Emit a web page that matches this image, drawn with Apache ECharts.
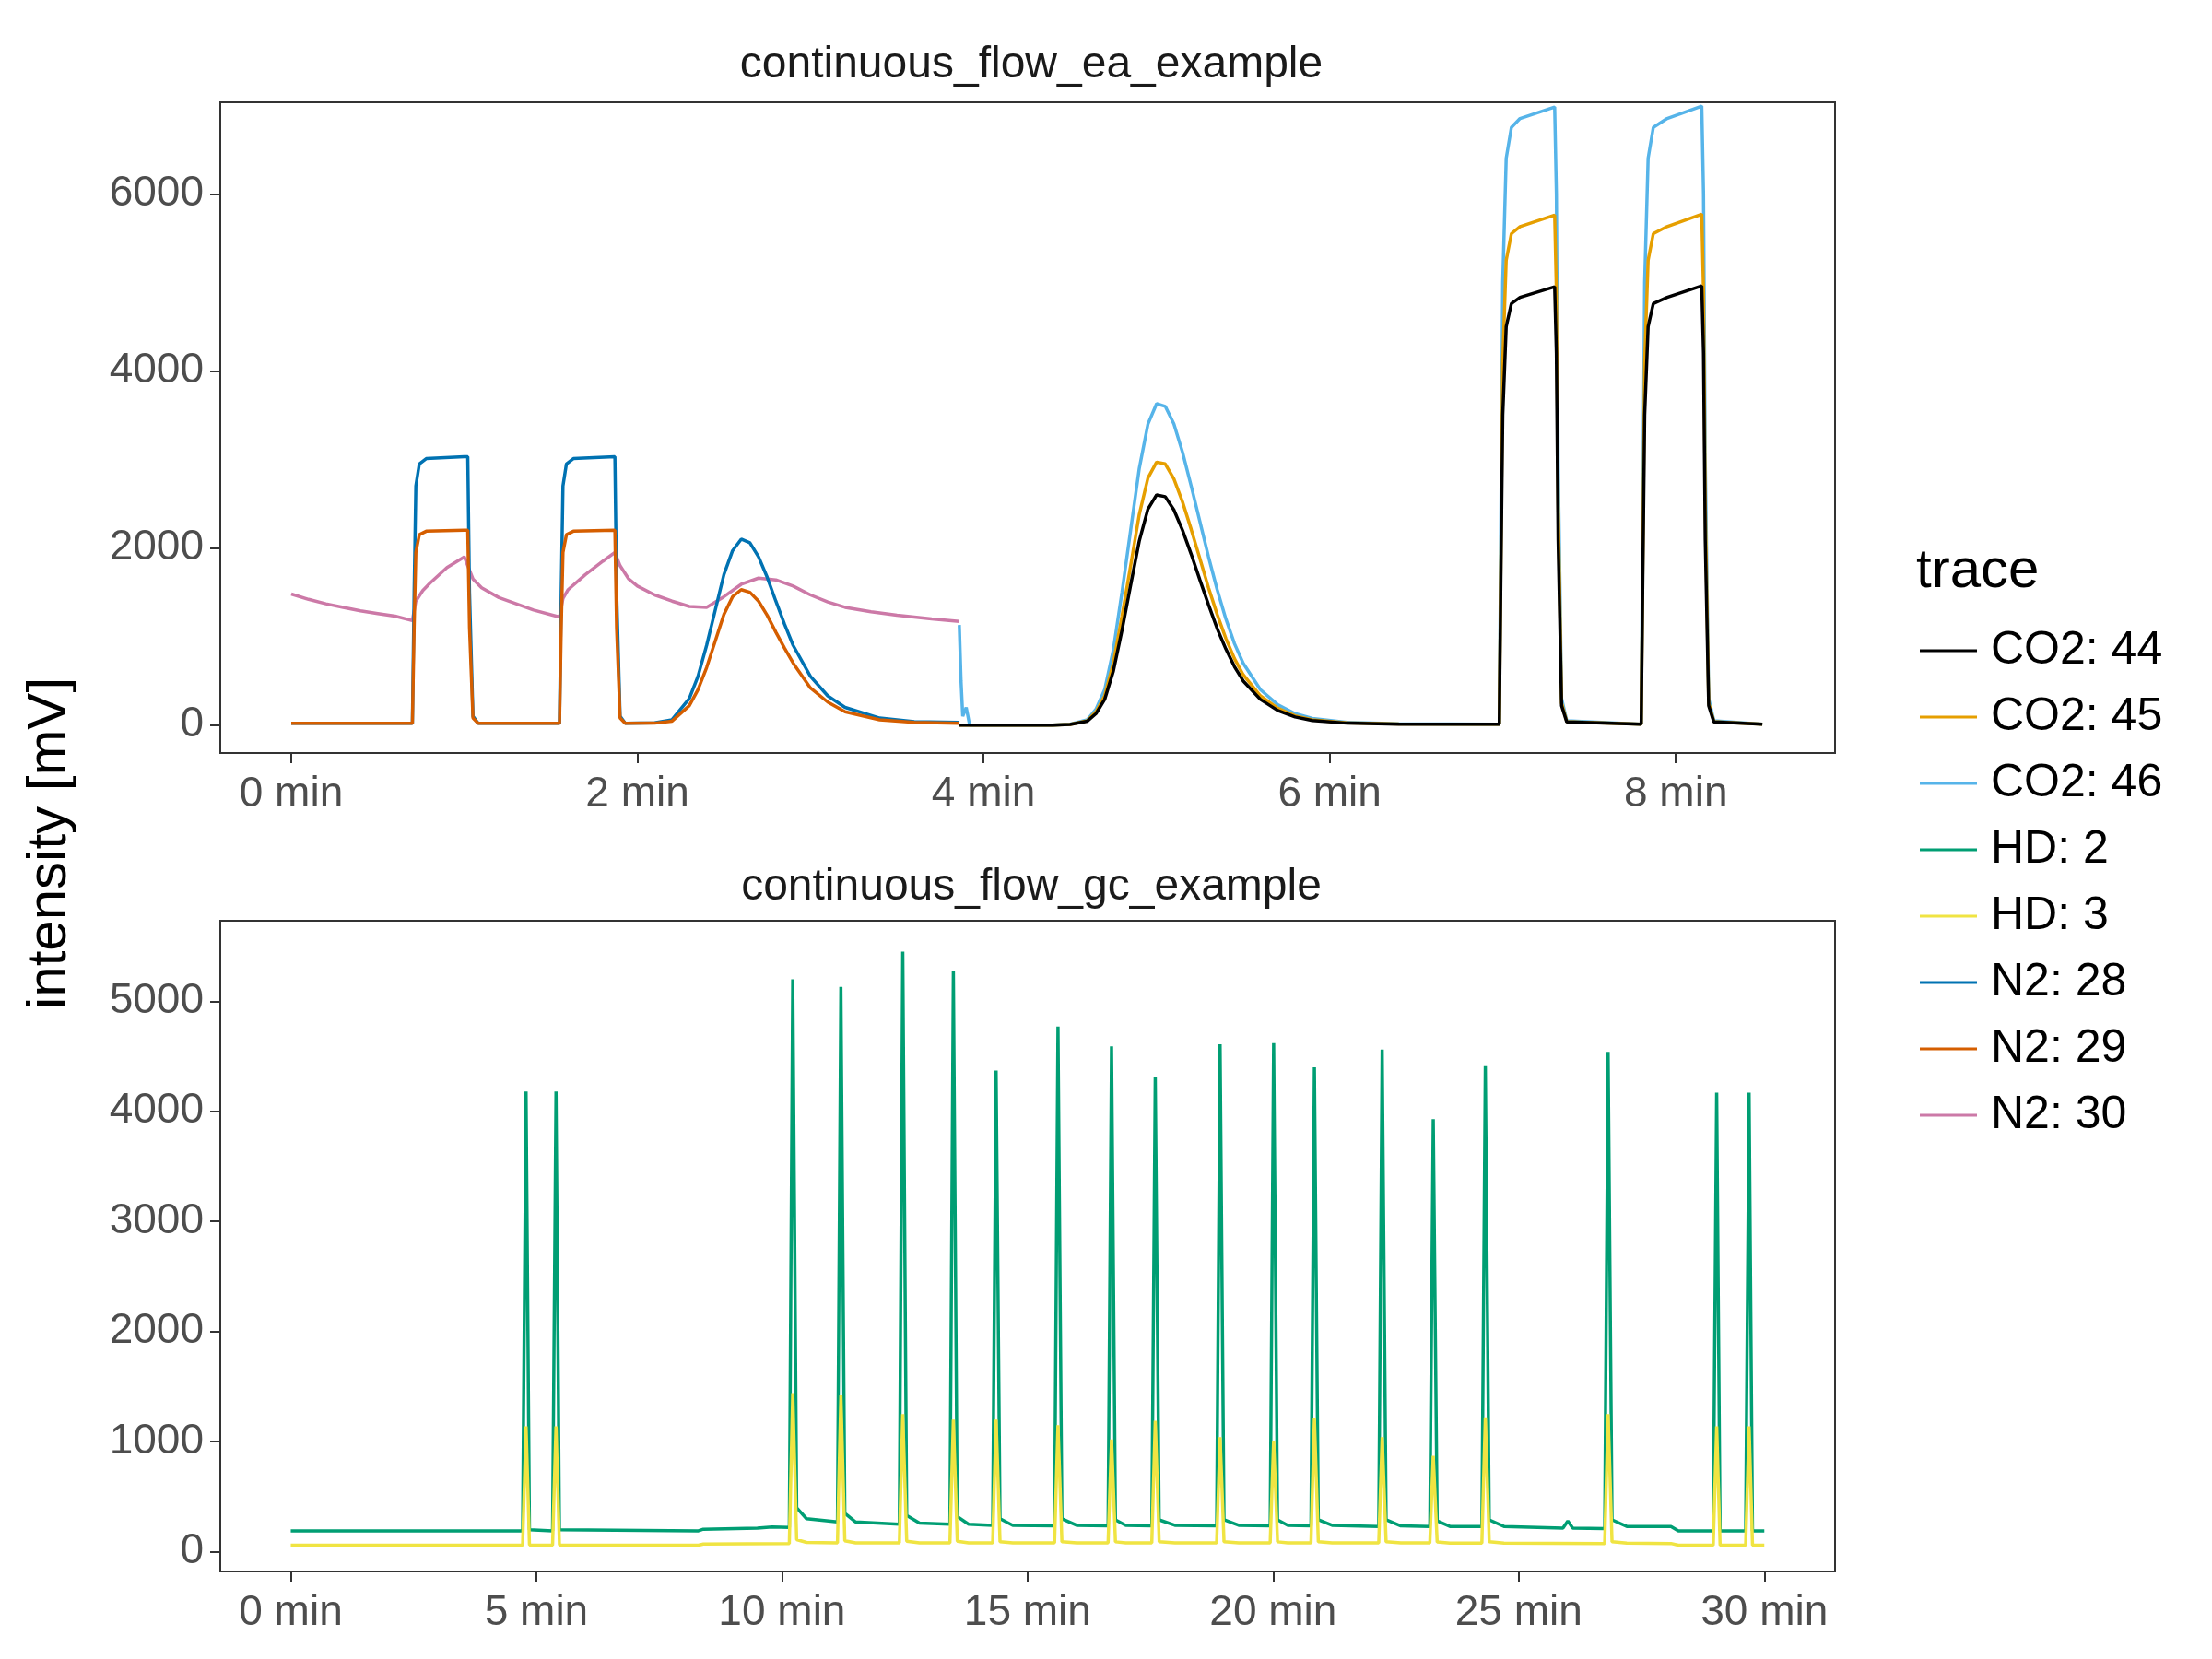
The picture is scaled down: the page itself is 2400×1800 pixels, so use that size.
<!DOCTYPE html>
<html>
<head>
<meta charset="utf-8">
<script src="https://cdn.jsdelivr.net/npm/echarts@6/dist/echarts.min.js"></script>
<style>html,body{margin:0;background:#fff}#chart-container{width:2400px;height:1800px}</style>
</head>
<body>
<div id="chart-container"></div>
<script>
// ---- data (time in min, intensity in mV) ----
var eaTicks = [0, 2, 4, 6, 8];
var eaYTicks = [0, 2000, 4000, 6000];
var gcTicks = [0, 5, 10, 15, 20, 25, 30];
var gcYTicks = [0, 1000, 2000, 3000, 4000, 5000];

var n2_28 = [[0,20],[0.7,20],[0.71,1500],[0.72,2700],[0.74,2950],[0.78,3010],[1.0,3030],[1.02,3030],[1.03,1500],[1.05,100],[1.08,20],[1.55,20],[1.56,1500],[1.57,2700],[1.59,2950],[1.63,3010],[1.87,3030],[1.88,1500],[1.9,100],[1.93,20],[2.1,25],[2.2,60],[2.3,300],[2.35,550],[2.4,900],[2.45,1300],[2.5,1700],[2.55,1970],[2.6,2100],[2.65,2060],[2.7,1900],[2.75,1670],[2.8,1400],[2.85,1140],[2.9,900],[3.0,550],[3.1,330],[3.2,200],[3.4,80],[3.6,40],[3.86,30]];
var n2_29 = [[0,20],[0.7,20],[0.71,1100],[0.72,1950],[0.74,2150],[0.78,2190],[1.0,2200],[1.02,2200],[1.03,1100],[1.05,80],[1.08,20],[1.55,20],[1.56,1100],[1.57,1950],[1.59,2150],[1.63,2190],[1.87,2200],[1.88,1100],[1.9,80],[1.93,20],[2.1,22],[2.2,45],[2.3,220],[2.35,400],[2.4,650],[2.45,950],[2.5,1250],[2.55,1450],[2.6,1530],[2.65,1500],[2.7,1400],[2.75,1240],[2.8,1050],[2.85,870],[2.9,700],[3.0,420],[3.1,260],[3.2,150],[3.4,60],[3.6,30],[3.86,20]];
var n2_30 = [[0,1480],[0.1,1420],[0.2,1370],[0.3,1330],[0.4,1290],[0.5,1260],[0.6,1230],[0.7,1180],[0.72,1400],[0.76,1520],[0.8,1600],[0.9,1780],[1.0,1900],[1.02,1800],[1.05,1650],[1.1,1550],[1.2,1440],[1.3,1370],[1.4,1300],[1.55,1220],[1.57,1430],[1.6,1530],[1.7,1700],[1.8,1850],[1.87,1950],[1.9,1800],[1.95,1650],[2.0,1570],[2.1,1470],[2.2,1400],[2.3,1340],[2.4,1330],[2.5,1450],[2.6,1590],[2.7,1660],[2.8,1640],[2.9,1570],[3.0,1470],[3.1,1390],[3.2,1330],[3.35,1280],[3.5,1240],[3.7,1200],[3.86,1170]];
var co2_46 = [[3.86,1130],[3.87,500],[3.88,100],[3.9,200],[3.92,0],[4.4,0],[4.5,10],[4.6,60],[4.65,180],[4.7,400],[4.75,850],[4.8,1500],[4.85,2200],[4.9,2900],[4.95,3400],[5.0,3630],[5.05,3600],[5.1,3400],[5.15,3080],[5.2,2700],[5.25,2300],[5.3,1900],[5.35,1530],[5.4,1200],[5.45,920],[5.5,700],[5.6,400],[5.7,230],[5.8,130],[5.9,75],[6.1,30],[6.4,15],[6.98,10],[6.99,2500],[7.0,5000],[7.02,6400],[7.05,6750],[7.1,6850],[7.3,6980],[7.31,6000],[7.32,3000],[7.34,300],[7.37,50],[7.8,10],[7.81,2500],[7.82,5000],[7.84,6400],[7.87,6750],[7.95,6850],[8.15,6990],[8.16,6000],[8.17,3000],[8.19,300],[8.22,50],[8.5,10]];
var co2_45 = [[3.86,0],[4.4,0],[4.5,8],[4.6,50],[4.65,150],[4.7,330],[4.75,700],[4.8,1230],[4.85,1800],[4.9,2380],[4.95,2790],[5.0,2970],[5.05,2950],[5.1,2780],[5.15,2520],[5.2,2210],[5.25,1880],[5.3,1550],[5.35,1250],[5.4,980],[5.45,750],[5.5,570],[5.6,330],[5.7,190],[5.8,105],[5.9,60],[6.1,25],[6.4,12],[6.98,10],[6.99,2000],[7.0,4100],[7.02,5250],[7.05,5550],[7.1,5630],[7.3,5760],[7.31,4900],[7.32,2500],[7.34,250],[7.37,40],[7.8,10],[7.81,2000],[7.82,4100],[7.84,5250],[7.87,5550],[7.95,5630],[8.15,5770],[8.16,4900],[8.17,2500],[8.19,250],[8.22,40],[8.5,10]];
var co2_44 = [[3.86,0],[4.4,0],[4.5,7],[4.6,45],[4.65,130],[4.7,290],[4.75,610],[4.8,1070],[4.85,1580],[4.9,2080],[4.95,2440],[5.0,2600],[5.05,2580],[5.1,2430],[5.15,2200],[5.2,1930],[5.25,1640],[5.3,1360],[5.35,1090],[5.4,860],[5.45,660],[5.5,500],[5.6,290],[5.7,165],[5.8,92],[5.9,52],[6.1,22],[6.4,11],[6.98,10],[6.99,1800],[7.0,3500],[7.02,4500],[7.05,4760],[7.1,4830],[7.3,4950],[7.31,4200],[7.32,2100],[7.34,220],[7.37,35],[7.8,10],[7.81,1800],[7.82,3500],[7.84,4500],[7.87,4760],[7.95,4830],[8.15,4960],[8.16,4200],[8.17,2100],[8.19,220],[8.22,35],[8.5,10]];

var hd_2 = [[0,190],[4.72,190],[4.79,4180],[4.86,200],[5.33,190],[5.40,4180],[5.47,200],[8.3,190],[8.4,205],[9.5,215],[9.8,225],[10.15,220],[10.22,5200],[10.3,400],[10.5,300],[11.13,270],[11.2,5130],[11.28,350],[11.5,270],[12.39,250],[12.46,5450],[12.54,330],[12.8,260],[13.42,250],[13.49,5270],[13.57,320],[13.8,250],[14.29,240],[14.36,4370],[14.44,300],[14.7,240],[15.55,235],[15.62,4770],[15.7,300],[16.0,240],[16.64,235],[16.71,4590],[16.79,290],[17.0,240],[17.53,235],[17.6,4310],[17.68,290],[18.0,240],[18.85,235],[18.92,4610],[19.0,290],[19.3,240],[19.94,235],[20.01,4620],[20.09,290],[20.3,240],[20.77,235],[20.84,4400],[20.92,290],[21.2,240],[22.15,230],[22.22,4560],[22.3,290],[22.6,235],[23.19,230],[23.26,3930],[23.34,280],[23.6,230],[24.25,230],[24.32,4410],[24.4,290],[24.7,230],[25.9,215],[26.0,280],[26.1,215],[26.75,210],[26.82,4540],[26.9,290],[27.2,230],[28.1,230],[28.25,190],[28.96,190],[29.03,4170],[29.1,190],[29.62,190],[29.69,4170],[29.76,190],[30,190]];
var hd_3 = [[0,60],[4.72,60],[4.79,1140],[4.86,62],[5.33,60],[5.40,1140],[5.47,62],[8.3,60],[8.4,70],[10.15,75],[10.22,1440],[10.3,110],[10.5,85],[11.13,80],[11.2,1420],[11.28,100],[11.5,80],[12.39,80],[12.46,1250],[12.54,95],[12.8,80],[13.42,80],[13.49,1200],[13.57,95],[13.8,80],[14.29,80],[14.36,1200],[14.44,90],[14.7,80],[15.55,80],[15.62,1150],[15.7,90],[16.0,80],[16.64,80],[16.71,1020],[16.79,90],[17.0,80],[17.53,80],[17.6,1190],[17.68,90],[18.0,80],[18.85,80],[18.92,1040],[19.0,90],[19.3,80],[19.94,80],[20.01,1010],[20.09,90],[20.3,80],[20.77,80],[20.84,1210],[20.92,90],[21.2,80],[22.15,80],[22.22,1040],[22.3,90],[22.6,80],[23.19,80],[23.26,870],[23.34,88],[23.6,78],[24.25,78],[24.32,1220],[24.4,90],[24.7,78],[26.75,75],[26.82,1250],[26.9,90],[27.2,78],[28.1,75],[28.25,60],[28.96,60],[29.03,1140],[29.1,60],[29.62,60],[29.69,1140],[29.76,60],[30,60]];

var FONT = 'Liberation Sans, Arial, sans-serif';

var dom = document.getElementById('chart-container');
var myChart = echarts.init(dom, null, { renderer: 'canvas' });

function xAx(gi, min, max, ticks) {
  return {
    type: 'value', gridIndex: gi, min: min, max: max,
    splitLine: { show: false }, axisLine: { show: false, onZero: false },
    axisTick: { show: true, length: 11, lineStyle: { color: '#333', width: 2 }, customValues: ticks },
    axisLabel: { customValues: ticks, formatter: '{value} min', color: '#4d4d4d', fontSize: 46, fontFamily: FONT, margin: 22 }
  };
}
function yAx(gi, min, max, ticks) {
  return {
    type: 'value', gridIndex: gi, min: min, max: max,
    splitLine: { show: false }, axisLine: { show: false, onZero: false },
    axisTick: { show: true, length: 11, lineStyle: { color: '#333', width: 2 }, customValues: ticks },
    axisLabel: { customValues: ticks, formatter: function (v) { return String(v); }, color: '#4d4d4d', fontSize: 46, fontFamily: FONT, margin: 18 }
  };
}
function line(name, data, color, gi) {
  return { name: name, type: 'line', data: data, xAxisIndex: gi, yAxisIndex: gi, showSymbol: false,
    lineStyle: { color: color, width: 3.5 }, itemStyle: { color: color }, animation: false };
}

var option = {
  backgroundColor: '#fff',
  animation: false,
  title: [
    { text: 'continuous_flow_ea_example', left: 1114, top: 42, textAlign: 'center', textStyle: { fontSize: 48, fontWeight: 'normal', color: '#1a1a1a', fontFamily: FONT } },
    { text: 'continuous_flow_gc_example', left: 1114, top: 934, textAlign: 'center', textStyle: { fontSize: 48, fontWeight: 'normal', color: '#1a1a1a', fontFamily: FONT } },
    { text: 'trace', left: 2074, top: 585, textStyle: { fontSize: 60, fontWeight: 'normal', color: '#000', fontFamily: FONT } }
  ],
  graphic: [{
    type: 'text', x: 54, y: 915, rotation: Math.PI / 2,
    style: { text: 'intensity [mV]', font: '60px ' + FONT, fill: '#000', textAlign: 'center', textVerticalAlign: 'middle' }
  }],
  legend: {
    orient: 'vertical', left: 2078, top: 676, itemWidth: 62, itemHeight: 3, itemGap: 22, icon: 'rect',
    textStyle: { fontSize: 50, color: '#000', fontFamily: FONT, padding: [0, 0, 0, 10] },
    data: ['CO2: 44', 'CO2: 45', 'CO2: 46', 'HD: 2', 'HD: 3', 'N2: 28', 'N2: 29', 'N2: 30']
  },
  grid: [
    { left: 239, top: 111, width: 1752, height: 706, show: true, borderColor: '#333', borderWidth: 2, backgroundColor: '#fff' },
    { left: 239, top: 999, width: 1752, height: 706, show: true, borderColor: '#333', borderWidth: 2, backgroundColor: '#fff' }
  ],
  xAxis: [xAx(0, -0.41, 8.92, eaTicks), xAx(1, -1.435, 31.44, gcTicks)],
  yAxis: [yAx(0, -315, 7033, eaYTicks), yAx(1, -179, 5731, gcYTicks)],
  series: [
    line('N2: 30', n2_30, '#CC79A7', 0),
    line('N2: 28', n2_28, '#0072B2', 0),
    line('N2: 29', n2_29, '#D55E00', 0),
    line('CO2: 46', co2_46, '#56B4E9', 0),
    line('CO2: 45', co2_45, '#E69F00', 0),
    line('CO2: 44', co2_44, '#000000', 0),
    line('HD: 2', hd_2, '#009E73', 1),
    line('HD: 3', hd_3, '#F0E442', 1)
  ]
};

myChart.setOption(option);
window.addEventListener('resize', myChart.resize);
</script>
</body>
</html>
